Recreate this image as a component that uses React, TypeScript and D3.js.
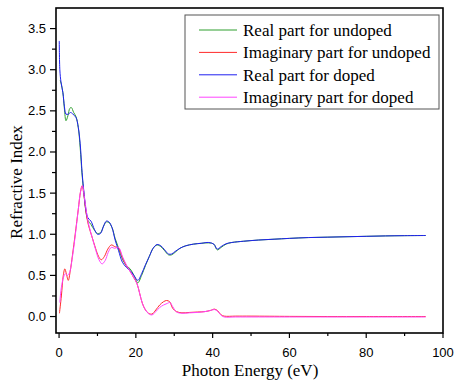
import React from "react";
import * as d3 from "d3";

const seriesNames = [
  "Real part for undoped",
  "Imaginary part for undoped",
  "Real part for doped",
  "Imaginary part for doped",
];
const seriesColors = ["#2f9f2f", "#ff2a2a", "#2020f0", "#ff44ff"];

const tailEnergy = [45, 48, 52, 56, 60, 65, 70, 75, 80, 85, 90, 95.5];

const realUndopedE = [0.3, 0.6, 1.0, 1.4, 1.8, 2.3, 2.8, 3.2, 3.8, 4.4, 5.0, 5.5, 6.0, 6.5, 7.0, 7.5, 8.3, 9.2, 10.0, 10.8, 11.6, 12.3, 13.0, 13.8, 14.6, 15.5, 16.5, 17.5, 18.5, 19.5, 20.5, 21.5, 22.5, 23.5, 24.5, 25.5, 26.5, 27.5, 28.5, 29.3, 30.2, 31.5, 33, 35, 37, 39, 40.3, 41.2, 42.2, 43.5, ...tailEnergy];
const realUndopedV = [2.87, 2.82, 2.72, 2.52, 2.38, 2.44, 2.53, 2.54, 2.48, 2.43, 2.30, 2.05, 1.72, 1.48, 1.28, 1.17, 1.12, 1.05, 1.01, 1.02, 1.10, 1.15, 1.14, 1.08, 0.95, 0.83, 0.70, 0.62, 0.58, 0.50, 0.41, 0.50, 0.62, 0.73, 0.83, 0.87, 0.85, 0.80, 0.75, 0.75, 0.78, 0.83, 0.86, 0.88, 0.89, 0.895, 0.88, 0.81, 0.84, 0.88, 0.90, 0.915, 0.93, 0.94, 0.95, 0.96, 0.965, 0.97, 0.975, 0.98, 0.983, 0.985];

const realDopedE = [0.05, 0.2, 0.5, 1.0, 1.4, 1.8, 2.4, 3.0, 3.6, 4.4, 5.0, 5.5, 6.0, 6.5, 7.0, 7.5, 8.3, 9.2, 10.0, 10.8, 11.6, 12.3, 13.0, 13.8, 14.6, 15.5, 16.5, 17.5, 18.5, 19.5, 20.5, 21.5, 22.5, 23.5, 24.5, 25.5, 26.5, 27.5, 28.5, 29.3, 30.2, 31.5, 33, 35, 37, 39, 40.3, 41.2, 42.2, 43.5, ...tailEnergy];
const realDopedV = [3.35, 3.0, 2.85, 2.72, 2.55, 2.46, 2.46, 2.48, 2.46, 2.42, 2.30, 2.10, 1.75, 1.50, 1.30, 1.20, 1.16, 1.06, 1.00, 1.01, 1.10, 1.16, 1.15, 1.08, 0.93, 0.80, 0.66, 0.60, 0.56, 0.50, 0.44, 0.52, 0.63, 0.73, 0.83, 0.875, 0.86, 0.81, 0.76, 0.76, 0.79, 0.83, 0.86, 0.88, 0.89, 0.90, 0.88, 0.82, 0.85, 0.885, 0.90, 0.915, 0.93, 0.94, 0.95, 0.96, 0.965, 0.97, 0.975, 0.98, 0.983, 0.985];

const imagUndopedE = [0.1, 0.6, 1.1, 1.5, 1.9, 2.4, 2.9, 3.5, 4.2, 5.0, 5.6, 6.0, 6.4, 7.0, 7.6, 8.5, 9.5, 10.3, 11.0, 11.8, 12.7, 13.6, 14.5, 15.5, 16.5, 17.5, 18.5, 19.5, 20.3, 21.0, 21.7, 22.5, 23.3, 24.2, 25.2, 26.2, 27.2, 28.0, 28.8, 29.6, 30.6, 32, 34, 36, 38, 39.5, 40.5, 41.3, 42.2, 43, 46, 50, 60, 70, 80, 95.5];
const imagUndopedV = [0.04, 0.25, 0.5, 0.58, 0.52, 0.44, 0.55, 0.75, 1.0, 1.3, 1.52, 1.59, 1.5, 1.27, 1.12, 0.98, 0.83, 0.73, 0.69, 0.73, 0.82, 0.87, 0.85, 0.83, 0.72, 0.62, 0.55, 0.47, 0.40, 0.28, 0.16, 0.08, 0.04, 0.03, 0.08, 0.14, 0.18, 0.195, 0.18, 0.10, 0.06, 0.045, 0.05, 0.055, 0.06, 0.075, 0.09, 0.07, 0.02, 0.005, 0.005, 0.005, 0.002, 0.0, 0.0, 0.0];

const imagDopedE = [0.2, 0.5, 1.0, 1.6, 2.2, 2.7, 3.5, 4.2, 5.0, 5.6, 6.1, 6.6, 7.2, 7.8, 8.7, 9.6, 10.4, 11.2, 12.0, 12.8, 13.6, 14.5, 15.5, 16.5, 17.5, 18.5, 19.5, 20.3, 21.0, 21.7, 22.5, 23.3, 24.2, 25.2, 26.2, 27.2, 28.2, 28.9, 29.6, 30.6, 32, 34, 36, 38, 39.5, 40.5, 41.3, 42.2, 43, 46, 60, 95.5];
const imagDopedV = [0.17, 0.32, 0.45, 0.52, 0.50, 0.53, 0.73, 0.98, 1.3, 1.52, 1.59, 1.45, 1.25, 1.10, 0.95, 0.80, 0.69, 0.64, 0.68, 0.78, 0.84, 0.83, 0.84, 0.73, 0.63, 0.55, 0.47, 0.40, 0.28, 0.16, 0.08, 0.035, 0.02, 0.06, 0.11, 0.14, 0.16, 0.17, 0.12, 0.055, 0.04, 0.045, 0.05, 0.06, 0.075, 0.085, 0.065, 0.015, -0.005, -0.005, -0.005, -0.005];

const xMajorTicks = [0, 20, 40, 60, 80, 100];
const xMinorTicks = [10, 30, 50, 70, 90];
const yMajorTicks = [0, 0.5, 1.0, 1.5, 2.0, 2.5, 3.0, 3.5];
const yMinorTicks = [0.25, 0.75, 1.25, 1.75, 2.25, 2.75, 3.25];

const W = 456, H = 380;
const L = 56, R = 443, T = 8, B = 333;

export default function App() {
  const x = d3.scaleLinear().domain([-0.8, 100]).range([L, R]);
  const y = d3.scaleLinear().domain([-0.2, 3.75]).range([B, T]);
  const line = d3
    .line<[number, number]>()
    .x((d) => x(d[0]))
    .y((d) => y(d[1]))
    .curve(d3.curveCatmullRom.alpha(0.5));

  const series = [
    d3.zip(realUndopedE, realUndopedV),
    d3.zip(imagUndopedE, imagUndopedV),
    d3.zip(realDopedE, realDopedV),
    d3.zip(imagDopedE, imagDopedV),
  ] as [number, number][][];

  const sans = "'Liberation Sans', Arial, sans-serif";
  const serif = "'Liberation Serif', 'Times New Roman', serif";

  const legX = 185, legY = 15, legW = 254, legH = 94;
  const rowY = (i: number) => 30 + i * 22.4;

  return (
    <svg width={W} height={H} style={{ position: "absolute", left: 0, top: 0, background: "#fff" }}>
      <rect x={0} y={0} width={W} height={H} fill="#fff" />
      {series.map((s, i) => (
        <path key={i} d={line(s) || ""} fill="none" stroke={seriesColors[i]} strokeWidth={1} />
      ))}
      <rect x={L} y={T} width={R - L} height={B - T} fill="none" stroke="#000" strokeWidth={1.6} />
      {xMajorTicks.map((t) => (
        <g key={"xm" + t}>
          <line x1={x(t)} x2={x(t)} y1={B} y2={B + 5} stroke="#000" strokeWidth={1.2} />
          <text x={x(t)} y={357} textAnchor="middle" fontFamily={sans} fontSize={13} fill="#000">
            {t}
          </text>
        </g>
      ))}
      {xMinorTicks.map((t) => (
        <line key={"xn" + t} x1={x(t)} x2={x(t)} y1={B} y2={B + 3} stroke="#000" strokeWidth={1.2} />
      ))}
      {yMajorTicks.map((t) => (
        <g key={"ym" + t}>
          <line x1={L - 6} x2={L} y1={y(t)} y2={y(t)} stroke="#000" strokeWidth={1.2} />
          <text x={46} y={y(t) + 4.5} textAnchor="end" fontFamily={sans} fontSize={13} fill="#000">
            {t.toFixed(1)}
          </text>
        </g>
      ))}
      {yMinorTicks.map((t) => (
        <line key={"yn" + t} x1={L - 4} x2={L} y1={y(t)} y2={y(t)} stroke="#000" strokeWidth={1.2} />
      ))}
      <text x={250} y={376} textAnchor="middle" fontFamily={serif} fontSize={17} fill="#000">
        Photon Energy (eV)
      </text>
      <text
        transform="translate(22,182) rotate(-90)"
        textAnchor="middle"
        fontFamily={serif}
        fontSize={17}
        fill="#000"
      >
        Refractive Index
      </text>
      <rect x={legX} y={legY} width={legW} height={legH} fill="#fff" stroke="#555" strokeWidth={1} />
      {seriesNames.map((n, i) => (
        <g key={n}>
          <line x1={199} x2={237} y1={rowY(i)} y2={rowY(i)} stroke={seriesColors[i]} strokeWidth={1} />
          <text x={243} y={rowY(i) + 6} fontFamily={serif} fontSize={17} fill="#000">
            {n}
          </text>
        </g>
      ))}
    </svg>
  );
}
